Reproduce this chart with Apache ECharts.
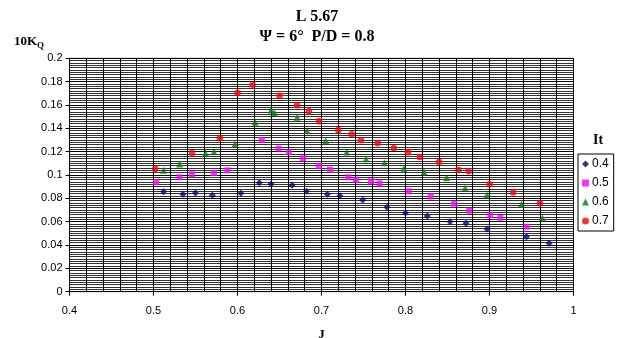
<!DOCTYPE html>
<html>
<head>
<meta charset="utf-8">
<script src="https://cdn.jsdelivr.net/npm/echarts@6/dist/echarts.min.js"></script>
<style>
  html, body { margin: 0; padding: 0; background: #fff; }
  #chart { width: 621px; height: 338px; }
</style>
</head>
<body>
<div id="chart"></div>
<script>
// Torque coefficient (10·KQ) against advance ratio J, one series per It value
const seriesNames = ['0.4', '0.5', '0.6', '0.7'];

const j04 = [0.512, 0.535, 0.550, 0.570, 0.604, 0.626, 0.640, 0.665, 0.682, 0.707, 0.722, 0.749, 0.778, 0.800, 0.826, 0.853, 0.872, 0.897, 0.944, 0.971];
const k04 = [0.0857, 0.0835, 0.0846, 0.0826, 0.0843, 0.0934, 0.0923, 0.0912, 0.0860, 0.0835, 0.0823, 0.0786, 0.0723, 0.0674, 0.0649, 0.0600, 0.0586, 0.0537, 0.0471, 0.0415];

const j05 = [0.503, 0.531, 0.546, 0.572, 0.588, 0.629, 0.649, 0.661, 0.678, 0.697, 0.710, 0.732, 0.741, 0.759, 0.769, 0.804, 0.830, 0.858, 0.876, 0.901, 0.913, 0.944];
const k05 = [0.0938, 0.0981, 0.1006, 0.1017, 0.1040, 0.1300, 0.1226, 0.1196, 0.1143, 0.1077, 0.1046, 0.0981, 0.0960, 0.0946, 0.0929, 0.0860, 0.0815, 0.0754, 0.0694, 0.0655, 0.0634, 0.0557];

const j06 = [0.512, 0.531, 0.562, 0.572, 0.597, 0.621, 0.640, 0.644, 0.671, 0.683, 0.705, 0.730, 0.753, 0.775, 0.798, 0.822, 0.849, 0.871, 0.897, 0.938, 0.963];
const k06 = [0.1040, 0.1095, 0.1189, 0.1200, 0.1266, 0.1452, 0.1557, 0.1534, 0.1495, 0.1380, 0.1294, 0.1197, 0.1140, 0.1106, 0.1057, 0.1026, 0.0977, 0.0889, 0.0829, 0.0749, 0.0632];

const j07 = [0.502, 0.546, 0.579, 0.600, 0.618, 0.650, 0.671, 0.685, 0.697, 0.720, 0.736, 0.747, 0.767, 0.786, 0.803, 0.817, 0.840, 0.863, 0.875, 0.900, 0.928, 0.960];
const k07 = [0.1052, 0.1189, 0.1315, 0.1703, 0.1774, 0.1680, 0.1597, 0.1546, 0.1460, 0.1386, 0.1349, 0.1298, 0.1272, 0.1232, 0.1195, 0.1155, 0.1112, 0.1043, 0.1032, 0.0921, 0.0849, 0.0758];

const xTicks = { min: 0.4, max: 1, step: 0.1 };
const yTicks = { min: 0, max: 0.2, step: 0.02 };

const zip = (xs, ys) => xs.map((x, i) => [x, ys[i]]);

const styles = [
  { symbol: 'diamond', size: 7, color: '#000080' },
  { symbol: 'rect', size: 6, color: '#FF00FF' },
  { symbol: 'triangle', size: 7, color: '#008000' },
  { symbol: 'circle', size: 6.5, color: '#FF0000' }
];
const dataSets = [zip(j04, k04), zip(j05, k05), zip(j06, k06), zip(j07, k07)];

const serif = '"Liberation Serif", "Times New Roman", serif';
const sans = '"Liberation Sans", Arial, sans-serif';

const chart = echarts.init(document.getElementById('chart'), null, { renderer: 'canvas' });

chart.setOption({
  animation: false,
  backgroundColor: '#fff',
  grid: {
    left: 69.5, right: 47.5, top: 58.3, bottom: 46.3,
    containLabel: false,
    outerBoundsMode: 'none',
    show: true, borderColor: '#888', borderWidth: 1, backgroundColor: 'transparent'
  },
  xAxis: {
    type: 'value',
    min: xTicks.min, max: xTicks.max, interval: xTicks.step,
    name: 'J', nameLocation: 'middle', nameGap: 36,
    nameTextStyle: { fontFamily: serif, fontWeight: 'bold', fontSize: 13, color: '#000' },
    axisLine: { show: true, lineStyle: { color: '#000', width: 1 } },
    axisTick: { show: true, inside: false, length: 4, lineStyle: { color: '#000' } },
    axisLabel: { fontFamily: sans, fontSize: 11, color: '#000', margin: 14 },
    splitLine: { show: true, lineStyle: { color: '#000', width: 1 } },
    minorTick: { show: false, splitNumber: 5 },
    minorSplitLine: { show: true, lineStyle: { color: '#000', width: 1 } }
  },
  yAxis: {
    type: 'value',
    min: yTicks.min, max: yTicks.max, interval: yTicks.step,
    axisLine: { show: true, lineStyle: { color: '#000', width: 1 } },
    axisTick: { show: true, inside: false, length: 4, lineStyle: { color: '#000' } },
    axisLabel: { fontFamily: sans, fontSize: 11, color: '#000', margin: 7 },
    splitLine: { show: true, lineStyle: { color: '#000', width: 1 } },
    minorTick: { show: false, splitNumber: 10 },
    minorSplitLine: { show: true, lineStyle: { color: '#333', width: 1 } }
  },
  legend: {
    orient: 'vertical',
    left: 578, top: 154,
    data: seriesNames,
    itemWidth: 7, itemHeight: 7, itemGap: 7,
    padding: [4, 5, 4, 4],
    borderColor: '#000', borderWidth: 1,
    textStyle: { fontFamily: sans, fontSize: 12, color: '#000', padding: [0, 0, 0, -2] }
  },
  graphic: [
    { type: 'text', x: 317, y: 9,
      style: { text: 'L 5.67', font: 'bold 16px ' + serif, fill: '#000', textAlign: 'center' } },
    { type: 'text', x: 317, y: 29,
      style: { text: 'Ψ = 6°  P/D = 0.8', font: 'bold 16px ' + serif, fill: '#000', textAlign: 'center' } },
    { type: 'text', x: 14, y: 34,
      style: { text: '{a|10K}{b|Q}', fill: '#000',
        rich: {
          a: { font: 'bold 13px ' + serif, fill: '#000' },
          b: { font: 'bold 9px ' + serif, fill: '#000', padding: [7, 0, 0, 0] }
        } } },
    { type: 'text', x: 598, y: 133,
      style: { text: 'It', font: 'bold 14px ' + serif, fill: '#000', textAlign: 'center' } }
  ],
  series: seriesNames.map((name, i) => ({
    name: name,
    type: 'scatter',
    symbol: styles[i].symbol,
    symbolSize: styles[i].size,
    itemStyle: { color: styles[i].color },
    data: dataSets[i]
  }))
});
</script>
</body>
</html>
